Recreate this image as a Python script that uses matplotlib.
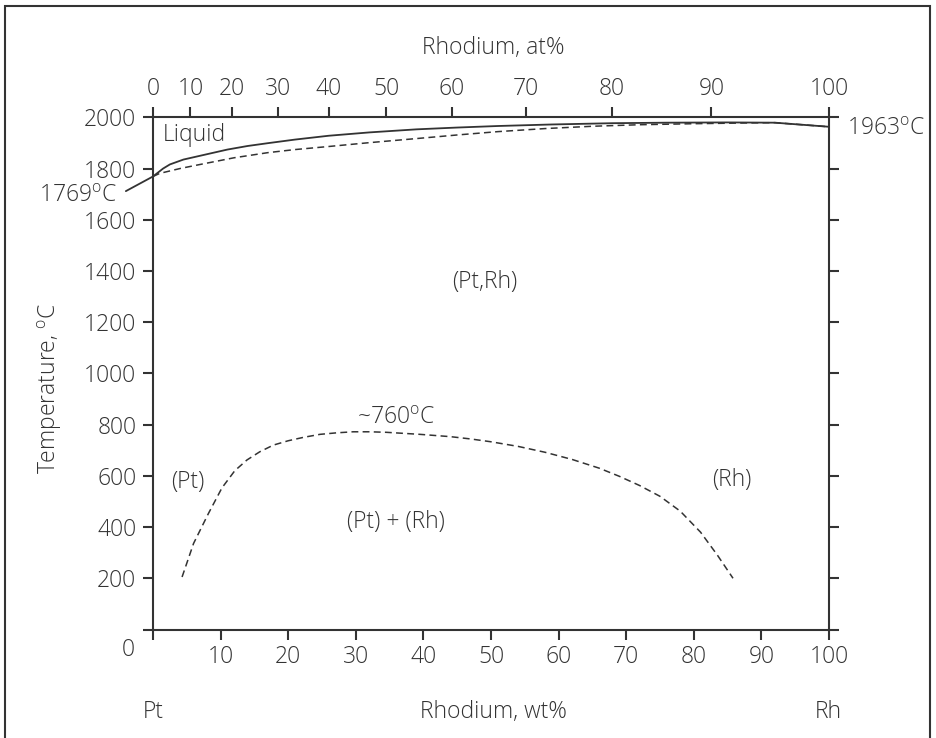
import numpy as np
import matplotlib
matplotlib.use("Agg")
import matplotlib.pyplot as plt
from matplotlib.patches import Rectangle

plt.rcParams['font.family'] = ['Open Sans', 'DejaVu Sans']
plt.rcParams['font.weight'] = 'light'
plt.rcParams['mathtext.fontset'] = 'custom'
plt.rcParams['mathtext.rm'] = 'Open Sans:light'
plt.rcParams['mathtext.it'] = 'Open Sans:light'

INK = "#333333"
FS = 16.5

# Liquidus (solid) and solidus (dashed), Rh wt% vs temperature
liq_wt = [0, 1.5, 2.5, 4.5, 7, 11, 14, 17, 21, 26, 32, 39, 45, 51, 59, 68, 76, 85, 92, 100]
liq_T = [1769, 1800, 1816, 1835, 1850, 1874, 1888, 1899, 1913, 1928, 1941, 1953, 1960, 1966,
         1972, 1977, 1979, 1980, 1979, 1963]
sol_wt = [0, 1, 4, 7, 12, 17, 21, 26, 32, 39, 45, 51, 58, 65, 72, 80, 88, 92, 100]
sol_T = [1769, 1781, 1800, 1816, 1842, 1862, 1874, 1886, 1901, 1917, 1931, 1944, 1956, 1965,
         1971, 1975, 1978, 1979, 1963]

# Miscibility gap boundary
gap_wt = [4.3, 6.0, 8.2, 10.2, 12.1, 13.9, 15.8, 17.8, 20.0, 22.2, 24.7, 27.2, 29.6,
          32.1, 34.5, 37.0, 39.5, 44, 47, 50, 54, 58, 62, 66, 69, 72, 75, 78,
          81, 83.5, 85.8]
gap_T = [205, 336, 453, 553, 620, 662, 694, 720, 737, 750, 762, 768, 772,
         772, 770, 766, 762, 753, 744, 733, 715, 692, 664, 630, 598, 562, 520, 462,
         380, 290, 200]

wt_ticks = [10, 20, 30, 40, 50, 60, 70, 80, 90, 100]
at_ticks = [0, 10, 20, 30, 40, 50, 60, 70, 80, 90, 100]
T_ticks = [200, 400, 600, 800, 1000, 1200, 1400, 1600, 1800, 2000]

M_RH, M_PT = 102.91, 195.08


def at_to_wt(a):
    a = np.asarray(a, dtype=float)
    return 100 * a * M_RH / (a * M_RH + (100 - a) * M_PT)


def wt_to_at(w):
    w = np.asarray(w, dtype=float)
    return 100 * (w / M_RH) / (w / M_RH + (100 - w) / M_PT)


fig = plt.figure(figsize=(9.36, 7.38), dpi=100)
ax = fig.add_axes([153 / 936, 1 - 629.5 / 738, 676 / 936, 512.2 / 738])

ax.plot(liq_wt, liq_T, color=INK, lw=1.3)
ax.plot(sol_wt, sol_T, color=INK, lw=1.1, dashes=(4.5, 2.8))
ax.plot(gap_wt, gap_T, color=INK, lw=1.1, dashes=(4.5, 2.8))

ax.set_xlim(0, 100)
ax.set_ylim(0, 2000)
for s in ax.spines.values():
    s.set_color(INK)
    s.set_linewidth(1.5)

ax.set_xticks([0] + wt_ticks)
ax.set_xticklabels([""] + [str(v) for v in wt_ticks])
ax.set_yticks([0] + T_ticks)
ax.set_yticklabels([""] + [str(v) for v in T_ticks])
ax.tick_params(axis='both', direction='out', length=7, width=1.5, color=INK,
               labelcolor=INK, labelsize=FS)
ax.tick_params(axis='x', pad=4)
ax.tick_params(axis='y', pad=5, right=True)

top = ax.secondary_xaxis('top', functions=(wt_to_at, at_to_wt))
top.set_xticks(at_ticks)
top.tick_params(direction='out', length=7, width=1.5, color=INK,
                labelcolor=INK, labelsize=FS, pad=5)
top.spines['top'].set_visible(False)

# zero label on the temperature axis sits below the corner
ax.text(-3.7, -80, "0", ha='center', va='center', fontsize=FS, color=INK)

deg = r"$^{\mathrm{o}}$C"
ax.text(1.4, 1931, "Liquid", ha='left', va='center', fontsize=FS, color=INK)
ax.text(49.1, 1357, "(Pt,Rh)", ha='center', va='center', fontsize=FS, color=INK)
ax.text(36, 824, "~760" + deg, ha='center', va='center', fontsize=FS, color=INK)
ax.text(5.1, 577, "(Pt)", ha='center', va='center', fontsize=FS, color=INK)
ax.text(36, 421, "(Pt) + (Rh)", ha='center', va='center', fontsize=FS, color=INK)
ax.text(85.6, 584, "(Rh)", ha='center', va='center', fontsize=FS, color=INK)
ax.text(102.6, 1955, "1963" + deg, ha='left', va='center', fontsize=FS, color=INK)
ax.annotate("1769" + deg, xy=(0, 1769), xytext=(-5.33, 1693), ha='right', va='center',
            fontsize=FS, color=INK, annotation_clip=False,
            arrowprops=dict(arrowstyle='-', color=INK, lw=1.3, relpos=(1, 0.5),
                            shrinkA=5, shrinkB=0))

fig.text(50 / 936, 1 - 388 / 738, "Temperature, " + deg, rotation=90, ha='center',
         va='center', fontsize=FS, color=INK)
fig.text(493 / 936, 1 - 48 / 738, "Rhodium, at%", ha='center', va='center',
         fontsize=FS, color=INK)
fig.text(493 / 936, 1 - 712 / 738, "Rhodium, wt%", ha='center', va='center',
         fontsize=FS, color=INK)
fig.text(153 / 936, 1 - 712 / 738, "Pt", ha='center', va='center', fontsize=FS, color=INK)
fig.text(828 / 936, 1 - 712 / 738, "Rh", ha='center', va='center', fontsize=FS, color=INK)

# outer frame, open past the bottom edge
fig.patches.append(Rectangle((5 / 936, -0.05), 925 / 936, 1.05 - 6 / 738,
                             transform=fig.transFigure, fill=False,
                             edgecolor=INK, lw=1.5))

fig.savefig("out.png", dpi=100)
